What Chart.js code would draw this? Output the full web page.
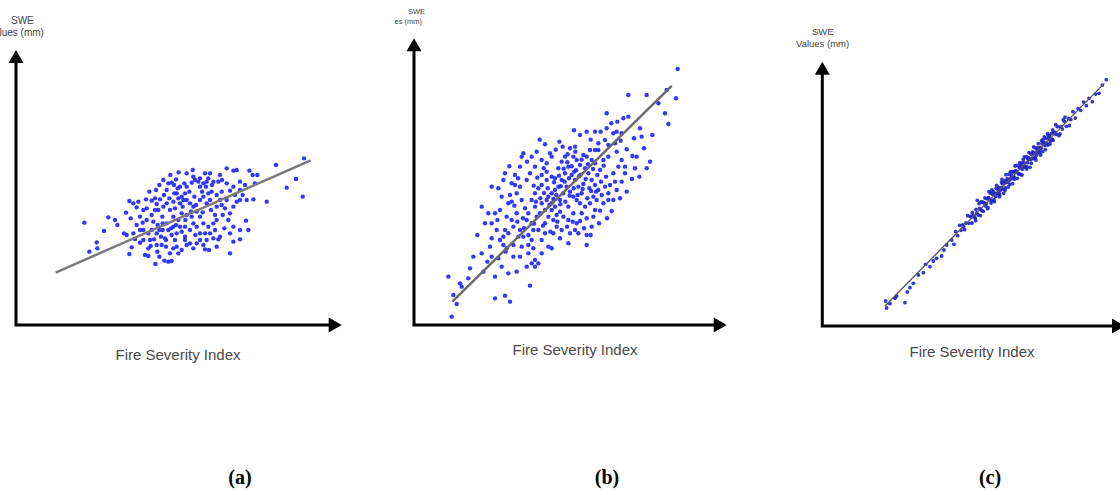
<!DOCTYPE html>
<html>
<head>
<meta charset="utf-8">
<script src="https://cdn.jsdelivr.net/npm/chart.js@4.4.1/dist/chart.umd.min.js"></script>
<style>
  html, body { margin: 0; padding: 0; background: #fff; overflow: hidden; }
  body { width: 1120px; height: 495px; position: relative; }
  .panel { position: absolute; overflow: hidden; }
  .cv { position: absolute; }
  .ylab { position: absolute; font-family: "Liberation Sans", Arial, sans-serif; color: #444; line-height: 1; white-space: nowrap; }
  .xlab { position: absolute; font-family: "Liberation Sans", Arial, sans-serif; color: #4a4a4a; font-size: 15px; white-space: nowrap; transform: translateX(-50%); }
  .cap { position: absolute; font-family: "Liberation Serif", "Times New Roman", serif; font-weight: bold; font-size: 20px; color: #000; transform: translateX(-50%); }
</style>
</head>
<body>
<!-- Panel (a) -->
<div class="panel" style="left:0;top:0;width:370px;height:400px;">
  <div class="ylab" style="left:11px;top:16px;font-size:10px;">SWE</div>
  <div class="ylab" style="left:-12px;top:28px;font-size:10px;">Values (mm)</div>
  <canvas id="ca" class="cv" style="left:0;top:30px;" width="360" height="310"></canvas>
</div>
<div class="xlab" style="left:178px;top:346px;">Fire Severity Index</div>
<!-- Panel (b) -->
<div class="panel" style="left:395px;top:0;width:350px;height:400px;">
  <div class="ylab" style="left:13px;top:8px;font-size:7.5px;">SWE</div>
  <div class="ylab" style="left:-15px;top:18px;font-size:7.5px;">Values (mm)</div>
  <canvas id="cb" class="cv" style="left:-15px;top:25px;" width="360" height="310"></canvas>
</div>
<div class="xlab" style="left:575px;top:341px;">Fire Severity Index</div>
<!-- Panel (c) -->
<div class="panel" style="left:770px;top:0;width:350px;height:400px;">
  <div class="ylab" style="left:42px;top:27px;font-size:9.5px;">SWE</div>
  <div class="ylab" style="left:26px;top:39px;font-size:9.5px;">Values (mm)</div>
  <canvas id="cc" class="cv" style="left:10px;top:40px;" width="360" height="300"></canvas>
</div>
<div class="xlab" style="left:972px;top:343px;">Fire Severity Index</div>

<div class="cap" style="left:240px;top:466px;">(a)</div>
<div class="cap" style="left:607px;top:466px;">(b)</div>
<div class="cap" style="left:990px;top:466px;">(c)</div>

<script>
// ---------- DATA (Fire Severity Index vs SWE, arbitrary units) ----------
const xLabel = "Fire Severity Index";
const yLabel = ["SWE", "Values (mm)"];
const captions = ["(a)", "(b)", "(c)"];

// Panel (a): weak correlation
const pointsA = [
[20.5,30.7],[27.7,32.3],[26.4,28.2],[24.2,24.8],[22.0,22.0],[24.4,23.0],[29.7,31.5],[30.4,30.0],[34.0,37.2],[33.0,33.7],
[34.4,32.0],[36.2,35.3],[35.2,36.5],[36.7,37.0],[39.0,37.7],[40.7,37.3],[41.7,38.0],[37.2,32.5],[38.0,30.7],[39.2,31.5],
[40.7,33.0],[41.2,31.0],[32.4,27.5],[33.2,27.0],[35.2,27.5],[35.7,25.8],[34.7,23.3],[34.0,21.3],[37.2,24.7],[38.7,21.0],
[39.7,20.7],[40.4,23.7],[41.4,25.7],[42.2,27.5],[43.0,28.5],[42.4,22.0],[41.8,18.3],[43.0,20.5],[44.5,19.3],[45.7,19.0],
[46.7,19.2],[46.2,21.5],[47.2,23.0],[48.2,23.5],[47.7,25.5],[46.7,27.0],[44.7,26.0],[44.0,28.5],[45.2,30.5],[43.9,32.5],
[42.7,34.5],[42.2,36.3],[43.2,37.7],[44.4,39.0],[45.2,40.5],[45.7,42.5],[43.0,42.0],[44.2,43.5],[46.7,42.7],[47.4,42.0],
[48.0,43.7],[49.2,41.5],[48.2,39.5],[47.2,37.0],[46.2,34.5],[47.2,32.5],[48.7,31.5],[49.2,29.5],[48.2,27.5],[49.7,28.0],
[50.7,26.5],[51.2,24.0],[52.2,24.5],[53.2,23.0],[54.2,24.5],[55.2,25.5],[56.2,24.0],[57.2,25.5],[57.9,22.5],[56.7,22.7],
[59.2,26.0],[60.7,25.7],[61.2,26.5],[60.2,23.5],[51.2,41.5],[52.7,42.7],[53.7,43.5],[54.7,43.0],[55.2,41.5],[56.2,42.5],
[57.7,44.0],[58.2,45.5],[59.2,43.0],[60.7,43.0],[61.2,45.0],[63.2,47.0],[65.2,46.3],[66.2,46.5],[67.2,43.0],[68.7,42.0],
[70.0,46.3],[71.0,45.0],[72.4,45.0],[71.7,42.5],[78.0,48.0],[81.2,41.2],[84.0,43.8],[86.4,50.0],[86.0,38.5],[75.2,37.0],
[71.2,37.7],[69.0,31.3],[67.2,28.5],[67.2,25.7],[65.2,25.0],[64.2,27.5],[65.2,29.5],[63.7,31.5],[64.2,33.5],[65.2,35.5],
[66.2,37.0],[67.2,37.5],[65.7,39.0],[64.2,40.3],[63.2,42.5],[61.7,40.0],[61.2,37.5],[60.2,35.5],[59.7,33.0],[60.2,31.5],
[59.2,30.5],[57.7,29.5],[56.2,30.5],[55.2,32.5],[54.2,34.0],[53.2,35.5],[52.2,36.5],[51.2,37.5],[50.7,39.5],[50.0,35.5],
[51.2,33.0],[52.7,32.5],[53.2,30.5],[52.2,28.5],[50.7,29.5],[49.7,33.5],[49.2,36.5],[50.2,37.5],[55.2,37.5],[57.2,36.5],
[58.2,37.5],[58.7,40.0],[57.7,39.5],[56.2,38.5],[60.2,39.0],[61.7,36.0],[62.7,35.0],[63.2,37.5],[54.2,29.5],[55.2,27.5],
[56.7,27.5],[58.2,27.5],[59.7,28.5],[47.2,29.5],[45.7,28.5],[40.7,28.5],[39.7,27.5],[38.2,28.5],[37.2,28.5],[36.2,30.0],
[41.7,34.5],[39.2,35.0],[38.2,34.5],[51.2,45.5],[53.2,44.5],[55.2,44.0],[56.7,45.5],[40.2,25.5],[38.2,25.5],[39.7,23.0],
[42.2,24.0],[43.7,24.0],[48.7,21.5],[49.7,22.5],[50.7,25.5],[45.0,23.5],[45.2,36.5],[44.2,35.5],[47.7,35.0],[48.7,38.0],
[49.7,38.5],[65.2,41.5],[67.2,40.5],[68.0,39.0],[69.2,37.5],[69.7,28.5],[64.2,21.5],
[46.0,38.0],[47.5,39.5],[48.5,41.0],[50.5,42.5],[52.0,40.0],[53.5,38.5],[55.8,40.0],[57.0,41.5],[58.8,42.0],[54.0,36.0],
[52.5,34.0],[50.8,31.5],[48.0,30.0],[46.5,29.0],[44.0,30.5],[42.5,30.0],[43.5,26.5],[45.0,25.5],[53.8,27.0],[56.0,33.8],
[58.5,34.5],[62.0,33.0],[62.5,29.0],[61.8,43.5],[57.2,43.0],[53.0,46.5],[48.8,45.8],[46.3,45.0],[42.0,40.5],[40.0,40.0]
];
const fitA = [[11.9,15.7],[88.4,49.4]];

// Panel (b): moderate correlation
const pointsB = [
[10.3,14.5],[11.8,9.0],[12.8,6.3],[11.3,2.5],[13.8,12.5],[14.3,11.5],[16.3,14.0],[16.8,17.0],[17.8,20.5],[20.3,21.5],
[20.8,16.0],[23.3,20.5],[22.8,23.5],[24.3,8.0],[27.3,8.8],[28.8,7.0],[24.3,14.5],[26.3,17.5],[25.3,20.0],[28.3,15.5],
[29.8,20.5],[30.8,16.0],[34.8,11.8],[33.8,17.5],[35.3,18.5],[36.3,19.5],[35.8,23.0],[35.3,25.5],[34.3,27.0],[32.3,23.5],
[31.3,26.5],[29.8,24.0],[27.8,23.0],[26.8,24.0],[25.8,25.5],[26.8,26.5],[28.3,27.5],[27.3,28.5],[24.8,28.5],[23.3,30.5],
[23.3,26.0],[24.3,33.5],[25.8,34.5],[27.8,32.5],[29.3,31.5],[28.3,36.5],[26.3,38.5],[28.8,39.0],[23.3,41.5],[25.3,41.0],
[27.3,45.5],[26.8,43.5],[30.3,45.0],[31.8,47.5],[32.8,51.5],[32.3,50.5],[35.3,50.5],[36.8,52.0],[38.3,49.5],[39.8,48.5],
[40.8,51.5],[41.3,50.5],[36.3,47.5],[34.8,45.5],[33.8,43.5],[31.8,41.5],[30.8,39.5],[32.3,37.5],[33.3,35.0],[34.3,33.5],
[33.8,31.5],[35.3,30.5],[36.8,32.5],[37.3,28.5],[39.3,27.5],[38.3,25.5],[40.3,23.5],[41.3,23.0],[38.3,21.5],[37.3,18.5],
[36.3,17.5],[41.8,27.5],[42.8,29.5],[44.3,28.5],[43.8,26.0],[46.3,24.5],[46.8,27.5],[48.3,28.5],[48.8,30.5],[49.3,27.5],
[51.8,27.0],[51.8,24.0],[53.3,29.5],[53.8,32.5],[54.3,34.5],[55.8,34.3],[56.8,36.5],[58.3,37.5],[59.8,37.5],[59.3,34.2],
[56.3,39.0],[55.3,40.5],[54.3,42.0],[53.3,43.5],[52.3,45.5],[51.3,47.0],[49.8,48.0],[48.8,49.5],[47.8,50.5],[46.8,53.0],
[48.3,53.5],[49.8,57.0],[51.8,58.0],[54.3,58.0],[55.3,54.5],[57.3,55.5],[58.3,54.0],[60.3,54.5],[57.8,59.0],[59.8,57.5],
[60.8,58.0],[62.8,62.0],[62.3,57.5],[64.3,62.5],[57.8,63.5],[64.3,69.0],[67.8,59.0],[68.3,56.5],[69.8,69.0],[73.3,66.5],
[75.3,63.5],[76.3,60.3],[75.8,70.5],[78.6,68.0],[79.1,76.8],[66.8,50.5],[65.5,50.7],[63.8,52.7],[62.3,49.5],[61.3,47.5],
[59.8,45.5],[60.3,43.0],[58.8,42.0],[58.3,39.5],[57.3,41.5],[55.8,46.5],[54.3,48.5],[53.3,49.5],[51.8,50.5],[50.8,51.0],
[52.8,52.5],[54.3,52.5],[58.3,50.5],[60.8,52.0],[63.3,47.5],[66.3,47.0],[69.8,47.0],[70.8,49.0],[63.3,45.5],[62.3,43.0],
[60.8,40.5],[46.3,47.5],[45.3,45.5],[44.3,43.5],[43.3,41.5],[42.3,40.5],[41.3,39.5],[40.3,38.5],[39.8,37.5],[41.3,36.5],
[42.3,35.5],[43.8,37.5],[44.8,39.5],[45.8,41.5],[46.8,40.0],[47.8,38.5],[48.8,37.5],[49.8,36.5],[50.3,39.5],[49.3,41.5],
[48.3,43.5],[47.3,45.0],[41.3,44.5],[39.8,43.5],[38.3,42.0],[37.3,41.0],[36.3,39.5],[35.3,37.5],[36.3,35.5],[38.3,36.5],
[39.3,34.5],[40.3,32.5],[41.8,31.5],[39.3,30.5],[37.8,33.5],[46.3,35.5],[47.8,33.5],[46.3,31.5],[44.8,32.5],[43.8,34.0],
[50.3,33.5],[51.8,32.0],[51.3,35.5],[52.8,36.5],[53.8,38.5],[54.8,37.5],[29.3,42.5],[30.3,42.0],[29.3,37.0],[30.8,33.5],
[29.8,29.5],[31.8,28.5],[32.8,26.5],[34.3,24.0],[22.3,33.5],[21.3,30.5],[20.3,35.5],[45.3,50.5],[44.3,49.0],[43.3,47.0],
[39.8,46.0],[38.3,45.0],[55.3,52.5],[56.8,49.5],[41.3,34.5],[42.8,33.0],[35.8,28.5],[34.3,21.5],[31.8,20.5],
[42.0,42.8],[43.5,44.8],[44.9,46.9],[46.0,48.8],[47.3,47.6],[48.6,46.4],[50.0,45.1],[51.5,43.8],[52.6,41.0],[50.8,42.3],
[49.5,44.6],[48.1,46.0],[46.5,44.0],[45.2,43.0],[44.0,41.6],[42.7,39.0],[41.8,37.8],[40.6,36.0],[39.0,39.6],[37.9,38.0],
[36.6,37.0],[35.9,41.8],[37.0,44.2],[38.9,47.0],[40.1,41.0],[42.3,44.0],[43.9,36.2],[45.4,37.0],[46.7,38.8],[47.9,41.0],
[49.1,39.0],[50.6,40.8],[52.0,38.0],[53.1,40.2],[54.6,40.0],[56.1,43.0],[57.6,44.5],[56.9,47.8],[55.0,45.0],[53.7,46.8],
[52.2,48.2],[50.3,49.6],[48.4,52.0],[46.1,51.2],[44.6,53.5],[42.5,52.6],[43.6,55.0],[39.3,54.2],[37.7,55.6],[33.9,49.0],
[31.2,44.0],[28.6,47.6],[30.1,35.8],[32.7,32.0],[36.0,30.4],[38.7,29.8],[40.9,28.0],[43.0,31.0],[45.9,29.5],[47.6,31.0],
[49.8,31.2],[51.0,29.0],[53.0,27.0],[55.5,30.5],[57.9,32.0],[61.8,38.0],[63.8,40.0],[65.4,43.8],[67.6,44.5],[62.0,55.3],
[59.2,60.5],[53.0,55.6],[48.0,58.4],[56.0,58.0],[61.0,61.0],[66.0,56.0],[69.0,53.0],[71.5,57.0],[27.5,22.0],[22.0,19.0],
[19.0,27.0],[25.0,31.5],[31.0,31.0],[33.0,29.0]
];
const fitB = [[11.5,7.0],[77.3,71.7]];

// Panel (c): strong correlation
const pointsC = [
[19.0,7.5],[19.3,5.4],[20.3,6.7],[21.8,8.3],[22.3,9.0],[24.8,7.0],[25.5,10.2],[26.3,11.5],[27.3,12.8],[28.8,15.3],
[30.3,16.0],[31.0,18.5],[32.3,17.8],[33.3,19.5],[34.3,20.3],[35.8,21.0],[36.5,22.8],[37.3,24.3],[38.8,25.8],[39.5,24.5],
[40.0,28.3],[40.6,27.1],[41.2,30.2],[41.6,28.7],[42.1,30.3],[42.7,28.9],[43.1,30.9],[43.6,33.1],[44.0,30.8],[44.4,32.9],
[44.9,30.9],[45.3,33.2],[45.7,32.7],[46.1,35.0],[46.5,37.7],[46.8,33.3],[47.2,35.3],[47.6,34.9],[48.0,37.2],[48.3,34.4],
[48.7,36.8],[49.0,36.0],[49.4,38.2],[49.7,35.5],[50.1,37.9],[50.4,39.9],[50.8,37.6],[51.1,39.5],[51.5,37.9],[51.8,39.8],
[52.2,41.3],[52.5,39.7],[52.9,41.5],[53.2,39.2],[53.6,41.5],[53.9,44.0],[54.2,41.1],[54.6,43.5],[54.9,41.4],[55.3,43.6],
[55.6,43.1],[56.0,45.5],[56.3,42.5],[56.7,45.3],[57.0,44.2],[57.4,46.2],[57.7,44.1],[58.1,46.3],[58.4,48.2],[58.8,45.7],
[59.1,47.5],[59.5,45.5],[59.8,48.9],[60.2,47.8],[60.5,49.0],[60.9,47.6],[61.2,50.8],[61.6,49.0],[61.9,50.1],[62.3,47.6],
[62.6,51.6],[63.0,50.2],[63.3,51.7],[63.7,50.2],[64.0,53.4],[64.4,52.0],[64.7,53.5],[65.1,52.0],[65.4,53.5],[65.8,55.6],
[66.1,52.3],[66.5,55.0],[66.8,54.2],[67.2,56.3],[67.6,54.3],[68.0,56.3],[68.4,55.5],[68.8,57.8],[69.2,55.7],[69.6,58.1],
[70.0,57.6],[70.5,59.8],[71.0,57.1],[71.5,59.8],[72.0,59.1],[72.6,61.4],[73.2,59.9],[73.8,62.3],[74.5,61.9],[75.2,64.3],
[75.9,62.4],[76.7,65.2],[77.5,64.7],[78.4,67.2],[79.2,66.1],[80.0,68.3],[81.0,67.3],[82.0,69.6],[83.0,69.8],[84.0,72.3],
[85.2,73.9],
[45.0,34.0],[45.9,32.2],[46.3,33.9],[47.0,36.7],[47.9,34.6],[48.5,37.0],[49.2,36.7],[49.9,38.5],[50.6,36.9],[51.3,40.3],
[52.0,38.9],[52.7,40.8],[53.4,40.7],[54.0,42.7],[54.8,40.7],[55.5,44.2],[56.2,43.8],[56.9,46.3],[57.6,44.7],[58.3,46.3],
[59.0,45.6],[59.6,48.2],[60.3,50.0],[61.0,47.9],[61.7,50.1],[62.4,49.9],[63.1,52.2],[63.8,50.6],[64.5,52.7],[65.2,52.5],
[65.9,54.7],[66.6,56.7],[67.4,54.8],[68.2,57.0],[69.0,56.0],[69.8,58.1],
[42.4,29.7],[44.7,32.7],[47.4,33.1],[50.0,40.3],[53.0,39.8],[55.0,43.0],[57.2,44.6],[59.3,47.6],[61.4,47.7],[63.5,52.0],
[65.6,53.3],[67.8,57.2],[70.2,57.5],[72.3,61.9],
[52.3,42.2],[53.1,38.8],[53.8,43.1],[54.4,39.8],[55.1,45.4],[55.8,41.7],[56.4,46.2],[57.1,42.7],[57.8,48.0],[58.5,44.3],
[59.2,48.9],[59.9,45.3],[60.6,50.7],[61.3,47.1],[62.0,52.0],[62.7,48.8],[63.4,53.7],[64.1,49.8],[64.8,54.7],[65.5,51.3],
[66.2,55.9],[66.9,52.9],[67.6,57.7],[68.3,54.6],[69.1,58.8],[70.0,60.4],[71.3,57.6],[72.8,62.7],[74.1,60.1],[48.8,38.4],
[49.6,35.2],[50.9,40.8],[51.6,37.3],[46.0,31.6],[47.6,37.2],[56.6,44.4],[58.0,46.6],[60.0,47.0],[61.8,50.5],[64.3,51.3],
[66.4,55.0]
];
const fitC = [[18.8,6.0],[84.6,72.8]];

// Axis extents (same arbitrary units) for each panel
const axisMax = { a: [97.7, 82.5], b: [93.8, 86.0], c: [90.8, 79.3] };

// ---------- DRAWING ----------
const toXY = arr => arr.map(p => ({ x: p[0], y: p[1] }));

const arrowAxes = {
  id: 'arrowAxes',
  afterDatasetsDraw(chart) {
    const { ctx, scales: { x, y } } = chart;
    const ox = x.getPixelForValue(x.min), oy = y.getPixelForValue(y.min);
    const tx = x.getPixelForValue(x.max), ty = y.getPixelForValue(y.max);
    const L = 13, W = 7.5;
    ctx.save();
    ctx.strokeStyle = '#000'; ctx.fillStyle = '#000'; ctx.lineWidth = 3; ctx.lineCap = 'butt';
    ctx.beginPath();
    ctx.moveTo(ox, oy + 1.5); ctx.lineTo(ox, ty + L - 1);
    ctx.moveTo(ox - 1.5, oy); ctx.lineTo(tx - L + 1, oy);
    ctx.stroke();
    ctx.beginPath();
    ctx.moveTo(ox, ty); ctx.lineTo(ox - W, ty + L); ctx.lineTo(ox + W, ty + L); ctx.closePath(); ctx.fill();
    ctx.beginPath();
    ctx.moveTo(tx, oy); ctx.lineTo(tx - L, oy - W); ctx.lineTo(tx - L, oy + W); ctx.closePath(); ctx.fill();
    ctx.restore();
  }
};

function makePanel(id, pts, fit, max, pad, style) {
  new Chart(document.getElementById(id), {
    type: 'scatter',
    data: {
      datasets: [
        { type: 'line', data: toXY(fit), borderColor: style.lineColor, borderWidth: style.lineWidth,
          pointRadius: 0, fill: false, order: 0 },
        { data: toXY(pts), backgroundColor: style.dot, borderWidth: 0,
          pointRadius: style.r, order: 1 }
      ]
    },
    options: {
      responsive: false, animation: false, events: [],
      layout: { padding: pad },
      plugins: { legend: { display: false }, tooltip: { enabled: false } },
      scales: {
        x: { type: 'linear', min: 0, max: max[0], display: false },
        y: { type: 'linear', min: 0, max: max[1], display: false }
      }
    },
    plugins: [arrowAxes]
  });
}

makePanel('ca', pointsA, fitA, axisMax.a, { left: 16, right: 18.3, top: 20, bottom: 15 },
  { dot: 'rgba(40,45,250,0.95)', r: 2.2, lineColor: '#7a7a7a', lineWidth: 2.5 });
makePanel('cb', pointsB, fitB, axisMax.b, { left: 34, right: 13.3, top: 13.3, bottom: 10 },
  { dot: 'rgba(40,45,250,0.95)', r: 2.2, lineColor: '#6a6a6a', lineWidth: 2.5 });
makePanel('cc', pointsC, fitC, axisMax.c, { left: 42.3, right: 15, top: 21.7, bottom: 14 },
  { dot: 'rgba(30,35,205,0.9)', r: 1.9, lineColor: '#555', lineWidth: 1.3 });
</script>
</body>
</html>
